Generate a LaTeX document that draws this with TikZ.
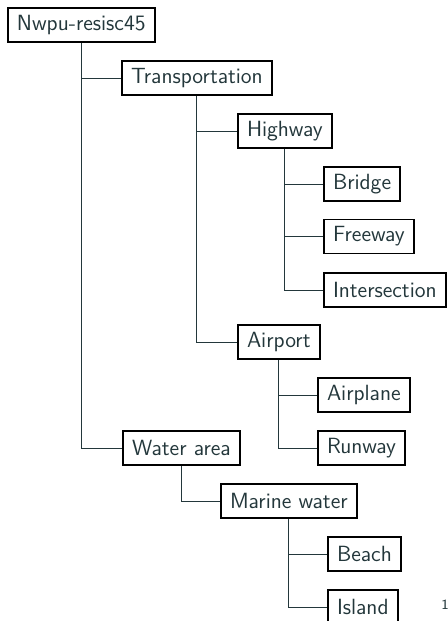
\documentclass[tikz,border=0pt]{standalone}
\usepackage{xcolor}
\definecolor{darkteal}{HTML}{23373B}
\tikzset{
  catbox/.style={draw=black, line width=0.8pt, fill=white, text=darkteal,
    font=\sffamily\fontsize{11}{13}\selectfont, inner xsep=4.6pt, inner ysep=0pt,
    minimum height=17pt, anchor=west},
  link/.style={draw=darkteal, line width=0.5pt},
}
\begin{document}
\begin{tikzpicture}[x=0.5pt, y=-0.5pt]
\useasboundingbox (0,0) rectangle (447,621);
\fill[white] (0,0) rectangle (447,621);
\node[catbox] (root) at (7,25) {Nwpu-resisc45};
\node[catbox] (trans) at (121,78) {Transportation};
\node[catbox] (highway) at (237,131) {Highway};
\node[catbox] (bridge) at (323,184) {Bridge};
\node[catbox] (freeway) at (323,236.5) {Freeway};
\node[catbox] (inters) at (323,290) {Intersection};
\node[catbox] (airport) at (237,342) {Airport};
\node[catbox] (airplane) at (317,395) {Airplane};
\node[catbox] (runway) at (317,448) {Runway};
\node[catbox] (water) at (122,448) {Water area};
\node[catbox] (marine) at (220,501) {Marine water};
\node[catbox] (beach) at (327,554) {Beach};
\node[catbox] (island) at (327,607) {Island};
\node[text=darkteal, font=\sffamily\fontsize{7}{8}\selectfont, inner sep=0pt] (pagenum) at (445,605) {1};
\foreach \p/\c in {root/trans, trans/highway, highway/bridge, highway/freeway, highway/inters,
  trans/airport, airport/airplane, airport/runway, root/water, water/marine, marine/beach, marine/island}
  \draw[link] (\p.south) |- (\c.west);
\end{tikzpicture}
\end{document}
